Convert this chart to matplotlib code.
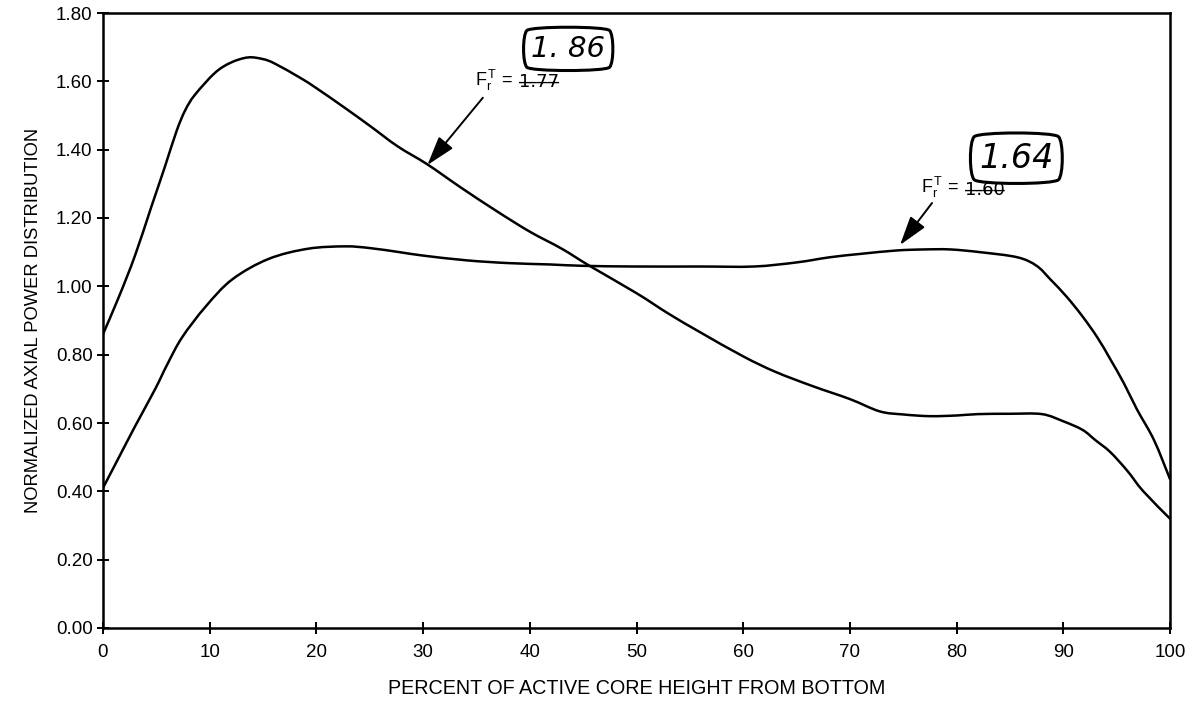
import matplotlib
matplotlib.use("Agg")
import matplotlib.pyplot as plt
from matplotlib.path import Path
from matplotlib.patches import PathPatch

# ---- data ----
x_bottom_peaked = [0, 1.5, 3, 4.5, 5.8, 6.9, 7.7, 8.6, 10.5, 12, 13.6, 15, 16.1, 18.5,
                   20, 22.5, 25, 27.6, 30.4, 33.5, 36.9, 40, 43, 45.6, 50, 53, 56, 60,
                   63, 66.5, 70, 72.8, 75, 77.5, 80, 82, 85, 88, 90, 91.8, 93, 94.4,
                   96, 97.5, 100]
y_bottom_peaked = [0.86, 0.97, 1.09, 1.23, 1.35, 1.455, 1.515, 1.56, 1.625, 1.655, 1.67,
                   1.665, 1.652, 1.61, 1.58, 1.526, 1.47, 1.41, 1.357, 1.29, 1.22, 1.16,
                   1.11, 1.06, 0.98, 0.92, 0.865, 0.795, 0.75, 0.708, 0.67, 0.634,
                   0.625, 0.62, 0.622, 0.626, 0.627, 0.626, 0.605, 0.58, 0.55, 0.515,
                   0.46, 0.40, 0.32]

x_flat = [0, 1.5, 3, 4.9, 6.0, 7.4, 9.6, 12.1, 15.5, 19.2, 22.7, 25, 27.8, 30, 34.1,
          38, 41.9, 45, 50, 56, 61, 65, 68.1, 71, 74.4, 77, 79.4, 82.2, 85.7, 87.5,
          88.8, 90.3, 91.8, 93.2, 94.4, 95.7, 96.9, 98.5, 100]
y_flat = [0.41, 0.50, 0.59, 0.70, 0.77, 0.85, 0.94, 1.02, 1.08, 1.11, 1.117, 1.112,
          1.10, 1.09, 1.076, 1.068, 1.064, 1.06, 1.058, 1.058, 1.058, 1.07, 1.085,
          1.095, 1.105, 1.108, 1.108, 1.10, 1.085, 1.06, 1.02, 0.97, 0.912, 0.85,
          0.787, 0.715, 0.64, 0.55, 0.436]

x_ticks = [0, 10, 20, 30, 40, 50, 60, 70, 80, 90, 100]
y_ticks = [0.0, 0.2, 0.4, 0.6, 0.8, 1.0, 1.2, 1.4, 1.6, 1.8]
y_tick_labels = ["0.00", "0.20", "0.40", "0.60", "0.80", "1.00", "1.20", "1.40", "1.60", "1.80"]

x_label = "PERCENT OF ACTIVE CORE HEIGHT FROM BOTTOM"
y_label = "NORMALIZED AXIAL POWER DISTRIBUTION"

plt.rcParams['font.family'] = ['Liberation Sans', 'DejaVu Sans']
plt.rcParams['mathtext.fontset'] = 'custom'
plt.rcParams['mathtext.rm'] = 'Liberation Sans'
plt.rcParams['mathtext.it'] = 'Liberation Sans'


def smooth_curve(ax, xs, ys, **kw):
    """Draw a smooth Catmull-Rom style Bezier through the given data points."""
    pts = list(zip(xs, ys))
    n = len(pts)
    verts = [pts[0]]
    codes = [Path.MOVETO]
    for i in range(n - 1):
        p0 = pts[i - 1] if i > 0 else pts[i]
        p1 = pts[i]
        p2 = pts[i + 1]
        p3 = pts[i + 2] if i + 2 < n else pts[i + 1]
        c1 = (p1[0] + (p2[0] - p0[0]) / 6.0, p1[1] + (p2[1] - p0[1]) / 6.0)
        c2 = (p2[0] - (p3[0] - p1[0]) / 6.0, p2[1] - (p3[1] - p1[1]) / 6.0)
        verts += [c1, c2, p2]
        codes += [Path.CURVE4] * 3
    patch = PathPatch(Path(verts, codes), fill=False, transform=ax.transData,
                      capstyle='round', joinstyle='round', **kw)
    ax.add_patch(patch)


fig = plt.figure(figsize=(11.94, 7.06), dpi=100)
ax = fig.add_axes([103/1194, 1-628/706, (1170-103)/1194, (628-13)/706])

smooth_curve(ax, x_bottom_peaked, y_bottom_peaked, color='black', lw=1.8)
smooth_curve(ax, x_flat, y_flat, color='black', lw=1.8)

ax.set_xlim(0, 100)
ax.set_ylim(0, 1.8)
ax.set_xticks(x_ticks)
ax.set_yticks(y_ticks)
ax.set_yticklabels(y_tick_labels)
ax.tick_params(direction='inout', length=9, width=1.4, labelsize=13.5)
ax.tick_params(axis='x', pad=7)
ax.tick_params(axis='y', pad=3)
for s in ax.spines.values():
    s.set_linewidth(1.8)

ax.set_xlabel(x_label, fontsize=14.2, labelpad=13)
ax.set_ylabel(y_label, fontsize=13.2, labelpad=10)

arrow_style = '-|>,head_length=0.9,head_width=0.28'

# annotation 1
ax.annotate("", xy=(30.4, 1.355), xytext=(35.6, 1.552),
            arrowprops=dict(arrowstyle=arrow_style, color='black', lw=1.4,
                            mutation_scale=20, shrinkA=0, shrinkB=0))
ax.text(34.9, 1.604, r'$\mathregular{F_r^{\,T}}$ =', fontsize=13, va='center', ha='left')
ax.text(39.0, 1.598, '1\u0336.\u03367\u03367\u0336', fontsize=13, va='center', ha='left',
        family=['DejaVu Sans'])
ax.text(43.6, 1.695, '1. 86', fontsize=21, fontstyle='italic', va='center', ha='center',
        family=['DejaVu Sans'],
        bbox=dict(boxstyle='round4,pad=0.3', fc='white', ec='black', lw=2.2))

# annotation 2
ax.annotate("", xy=(74.7, 1.121), xytext=(77.7, 1.244),
            arrowprops=dict(arrowstyle=arrow_style, color='black', lw=1.4,
                            mutation_scale=20, shrinkA=0, shrinkB=0))
ax.text(76.7, 1.288, r'$\mathregular{F_r^{\,T}}$ =', fontsize=13, va='center', ha='left')
ax.text(80.8, 1.282, '1\u0336.\u03366\u03360\u0336', fontsize=13, va='center', ha='left',
        family=['DejaVu Sans'])
ax.text(85.6, 1.375, '1.64', fontsize=24, fontstyle='italic', va='center', ha='center',
        family=['DejaVu Sans'],
        bbox=dict(boxstyle='round4,pad=0.3', fc='white', ec='black', lw=2.2))

fig.savefig('out.png', dpi=100)
